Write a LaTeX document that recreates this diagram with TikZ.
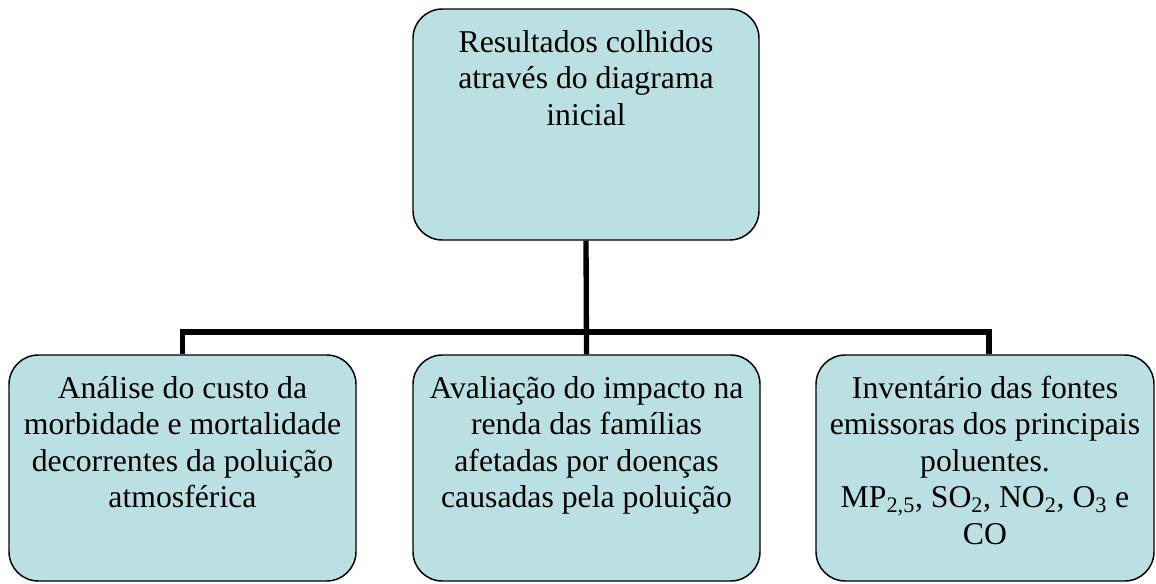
\documentclass[tikz,border=0pt]{standalone}
\usepackage{fontspec}
\setmainfont{Liberation Serif}
\definecolor{boxfill}{RGB}{187,224,227}
\tikzset{
  x=0.75pt, y=-0.75pt,
  boxshape/.style={draw=black, line width=1.1pt, fill=boxfill, rounded corners=22pt, inner sep=0pt,
    font=\fontsize{23.8}{27.4}\selectfont},
  conn/.style={draw=black, line width=4pt}
}
\newcommand{\boxtext}[3]{\parbox[c][#2][t]{#1}{\centering\rule{0pt}{32.25pt}#3}}
\begin{document}
\begin{tikzpicture}
\useasboundingbox (0,0) rectangle (1156,583);
\node[boxshape] (top) at (586,124.5) {\boxtext{259.5pt}{173.25pt}{Resultados colhidos\\através do diagrama\\inicial}};
\node[boxshape] (left) at (182.5,468) {\boxtext{260.25pt}{169.5pt}{Análise do custo da\\morbidade e mortalidade\\decorrentes da poluição\\atmosférica}};
\node[boxshape] (mid) at (586.5,468) {\boxtext{260.25pt}{169.5pt}{Avaliação do impacto na\\renda das famílias\\afetadas por doenças\\causadas pela poluição}};
\node[boxshape] (right) at (985,468) {\boxtext{253.5pt}{169.5pt}{Inventário das fontes\\emissoras dos principais\\poluentes.\\MP\textsubscript{2,5}, SO\textsubscript{2}, NO\textsubscript{2}, O\textsubscript{3} e\\CO}};
\coordinate (jr) at (989,332);
\draw[conn] (top.south) -- (mid.north);
\draw[conn] (left.north) |- (jr) -- (jr |- right.north);
\end{tikzpicture}
\end{document}
